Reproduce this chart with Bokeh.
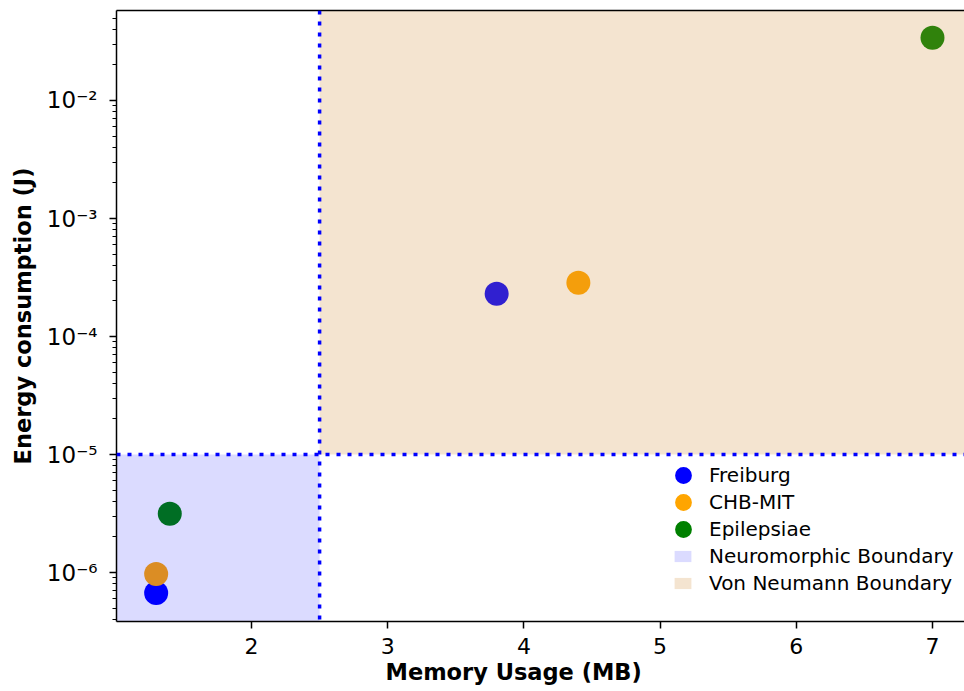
from bokeh.plotting import figure
from bokeh.models import (Range1d, FixedTicker, CustomJSTickFormatter, Span, Legend,
                          LegendItem, LinearAxis, Title)
from bokeh.embed import file_html
from bokeh.resources import INLINE

# ---- data ----
datasets = ["Freiburg", "CHB-MIT", "Epilepsiae"]
colors = ["blue", "orange", "green"]
freiburg_mem = [1.3, 3.8]
freiburg_energy = [6.7e-7, 2.3e-4]
chbmit_mem = [1.3, 4.4]
chbmit_energy = [9.7e-7, 2.85e-4]
epilepsiae_mem = [1.4, 7.0]
epilepsiae_energy = [3.15e-6, 3.4e-2]
boundary_names = ["Neuromorphic Boundary", "Von Neumann Boundary"]
mem_boundary = 2.5
energy_boundary = 1e-5
x_ticks = [2, 3, 4, 5, 6, 7]
y_ticks = [1e-6, 1e-5, 1e-4, 1e-3, 1e-2]

series = [(freiburg_mem, freiburg_energy), (chbmit_mem, chbmit_energy),
          (epilepsiae_mem, epilepsiae_energy)]

x_start, x_end = 1.0088, 7.235
y_start, y_end = 3.845e-7, 0.0579

p = figure(width=964, height=691, y_axis_type="log",
           x_range=Range1d(x_start, x_end), y_range=Range1d(y_start, y_end),
           output_backend="svg", toolbar_location=None,
           min_border_left=116, min_border_right=0, min_border_top=10, min_border_bottom=70)
p.grid.visible = False
p.outline_line_color = None
p.background_fill_color = "white"

scatter_renderers = []
for (xs, ys), name, c in zip(series, datasets, colors):
    r = p.scatter(xs, ys, size=24, color=c, line_color=None)
    scatter_renderers.append(r)

neuro = p.quad(left=[x_start - 1], right=[mem_boundary], bottom=[y_start / 10],
               top=[energy_boundary], fill_color="blue", fill_alpha=0.14, line_color=None)
vonn = p.quad(left=[mem_boundary], right=[x_end + 1], bottom=[energy_boundary],
              top=[y_end * 10], fill_color="#d18b34", fill_alpha=0.23, line_color=None)

p.add_layout(Span(location=mem_boundary, dimension="height", line_color="blue",
                  line_width=3.5, line_dash="4 7"))
p.add_layout(Span(location=energy_boundary, dimension="width", line_color="blue",
                  line_width=3.5, line_dash="4 7"))

# axes
font = "DejaVu Sans"
xa = p.xaxis[0]
xa.ticker = FixedTicker(ticks=x_ticks)
ya = p.yaxis[0]
minor = [m * 10.0 ** e for e in range(-7, -1) for m in range(2, 10)]
ya.ticker = FixedTicker(ticks=y_ticks, minor_ticks=minor)
ya.formatter = CustomJSTickFormatter(code="""
const sup = {"-":"\u207b","0":"\u2070","1":"\u00b9","2":"\u00b2","3":"\u00b3","4":"\u2074","5":"\u2075","6":"\u2076","7":"\u2077","8":"\u2078","9":"\u2079"};
const e = Math.round(Math.log10(tick));
return "10" + String(e).split("").map(c => sup[c]).join("");
""")
ya.axis_label = "Energy consumption (J)"
for ax in (xa, ya):
    ax.axis_label_text_font = font
    ax.axis_label_text_font_style = "bold"
    ax.axis_label_text_font_size = "22.5px"
    ax.axis_label_text_color = "black"
    ax.major_label_text_font = font
    ax.major_label_text_font_size = "22px"
    ax.major_label_text_color = "black"
    ax.axis_line_width = 1.5
    ax.axis_line_color = "black"
    ax.major_tick_line_width = 1.5
    ax.major_tick_line_color = "black"
    ax.major_tick_out = 7
    ax.major_tick_in = 0
    ax.minor_tick_line_width = 1.2
    ax.minor_tick_line_color = "black"
    ax.minor_tick_out = 4
    ax.minor_tick_in = 0
xa.major_label_standoff = 9
ya.major_label_standoff = 12
ya.axis_label_standoff = 8
ya.major_label_text_font_size = "23px"
xa.minor_tick_line_color = None

# x label placed like the reference (left of frame centre)
p.add_layout(Title(text="Memory Usage (MB)", align="left", offset=269, standoff=0,
                   text_font=font, text_font_style="bold", text_font_size="22.5px",
                   text_color="black"), "below")

top_axis = LinearAxis(ticker=FixedTicker(ticks=[]), major_label_text_font_size="0px",
                      axis_line_width=1.5, axis_line_color="black",
                      major_tick_line_color=None, minor_tick_line_color=None)
p.add_layout(top_axis, "above")

common = dict(padding=0, margin=0, border_line_color=None, background_fill_alpha=0,
              label_text_font=font, label_text_font_size="20px", label_text_color="black")
for r, n, vy in zip(scatter_renderers, datasets, [125, 98, 71]):
    p.add_layout(Legend(items=[LegendItem(label=n, renderers=[r])], location=(546, vy),
                        glyph_width=42, glyph_height=42, label_standoff=5, **common), "center")
for r, n, vy in zip([neuro, vonn], boundary_names, [53, 26]):
    p.add_layout(Legend(items=[LegendItem(label=n, renderers=[r])], location=(556, vy),
                        glyph_width=21, glyph_height=14, label_standoff=16, **common), "center")

open("out.html", "w").write(file_html(p, INLINE))
